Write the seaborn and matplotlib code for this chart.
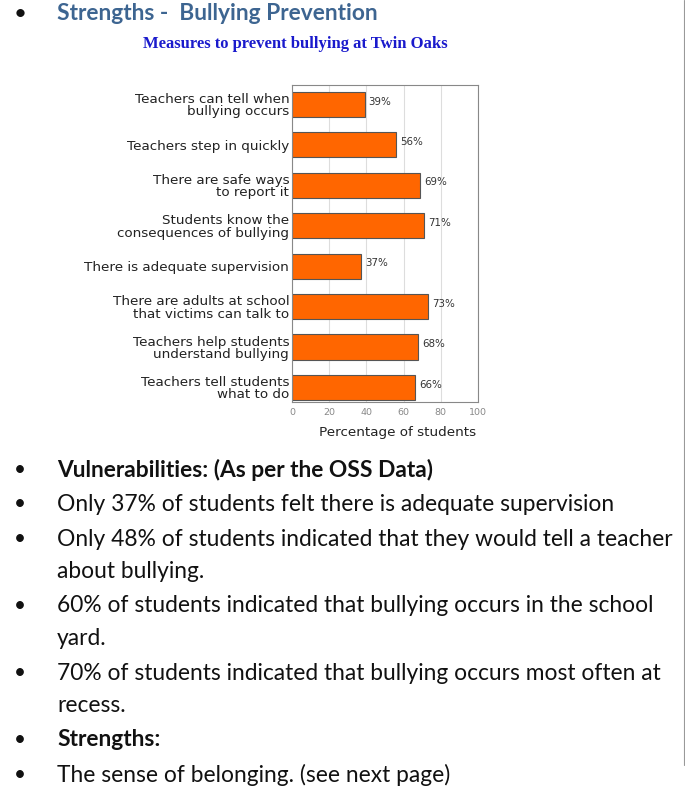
import seaborn as sns
import pandas as pd
import matplotlib.pyplot as plt
from matplotlib.lines import Line2D

# chart data
measures = ["Teachers can tell when\nbullying occurs",
            "Teachers step in quickly",
            "There are safe ways\nto report it",
            "Students know the\nconsequences of bullying",
            "There is adequate supervision",
            "There are adults at school\nthat victims can talk to",
            "Teachers help students\nunderstand bullying",
            "Teachers tell students\nwhat to do"]
percent = [39, 56, 69, 71, 37, 73, 68, 66]
xticks = [0, 20, 40, 60, 80, 100]

bullets = [("Vulnerabilities: (As per the OSS Data)", True),
           ("Only 37% of students felt there is adequate supervision", False),
           ("Only 48% of students indicated that they would tell a teacher\nabout bullying.", False),
           ("60% of students indicated that bullying occurs in the school\nyard.", False),
           ("70% of students indicated that bullying occurs most often at\nrecess.", False),
           ("Strengths:", True),
           ("The sense of belonging. (see next page)", False)]

df = pd.DataFrame({"measure": measures, "pct": percent})

sns.set_style("white")
fig = plt.figure(figsize=(6.85, 7.86), dpi=100)
ax = fig.add_axes([0.4263, 0.4885, 0.2715, 0.4034])

sns.barplot(data=df, x="pct", y="measure", orient="h", color="#ff6600",
            width=0.62, edgecolor="#555555", linewidth=0.8, saturation=1, ax=ax)

for i, v in enumerate(percent):
    ax.annotate(f"{v}%", (v, i), xytext=(3, 2), textcoords="offset points",
                va="center", ha="left", fontsize=7.4, color="#333333",
                family="DejaVu Sans")

ax.set_xlim(0, 100)
ax.set_ylim(7.36, -0.48)
ax.set_xticks(xticks)
ax.set_xticklabels([str(t) for t in xticks], fontsize=6.8, color="#888888",
                   family="DejaVu Sans")
ax.tick_params(axis="x", length=2, color="#aaaaaa", pad=2)
ax.tick_params(axis="y", length=0, pad=2)
for lab in ax.get_yticklabels():
    lab.set_fontsize(9.7)
    lab.set_color("#222222")
    lab.set_family("DejaVu Sans")
    lab.set_multialignment("right")
    lab.set_linespacing(0.95)
ax.xaxis.grid(True, color="#dddddd", linewidth=0.8)
ax.set_axisbelow(True)
for s in ax.spines.values():
    s.set_color("#888888")
    s.set_linewidth(0.8)
ax.set_ylabel("")
ax.set_xlabel("Percentage of students", fontsize=9.7, color="#222222",
              family="DejaVu Sans")
ax.xaxis.set_label_coords(0.565, -0.075)

# chart title
fig.text(295 / 685, 1 - 44 / 786, "Measures to prevent bullying at Twin Oaks",
         ha="center", va="center", fontsize=12, fontweight="bold",
         color="#1a1acc", family="Liberation Serif")

# page header
fig.text(14 / 685, 1 - 14 / 786, "\u2022", ha="left", va="center",
         fontsize=16, color="#111111", family="Lato")
fig.text(57 / 685, 1 - 14 / 786, "Strengths -  Bullying Prevention",
         ha="left", va="center", fontsize=16.4, fontweight="bold",
         color="#3d6591", family="Lato")

# bullet list
y = 470
for txt, bold in bullets:
    fig.text(14 / 685, 1 - y / 786, "\u2022", ha="left", va="center",
             fontsize=15, color="#111111", family="Lato")
    lines = txt.split("\n")
    for j, line in enumerate(lines):
        fig.text(57 / 685, 1 - (y + 32.5 * j) / 786, line, ha="left",
                 va="center", fontsize=16.4,
                 fontweight="bold" if bold else "normal",
                 color="#111111", family="Lato")
    y += 32.5 * (len(lines) - 1) + 34.5

# thin page edge on the right
fig.add_artist(Line2D([684 / 685, 684 / 685], [1, 1 - 765 / 786],
                      transform=fig.transFigure, color="#999999", linewidth=0.8))

fig.savefig("out.png", dpi=100)
